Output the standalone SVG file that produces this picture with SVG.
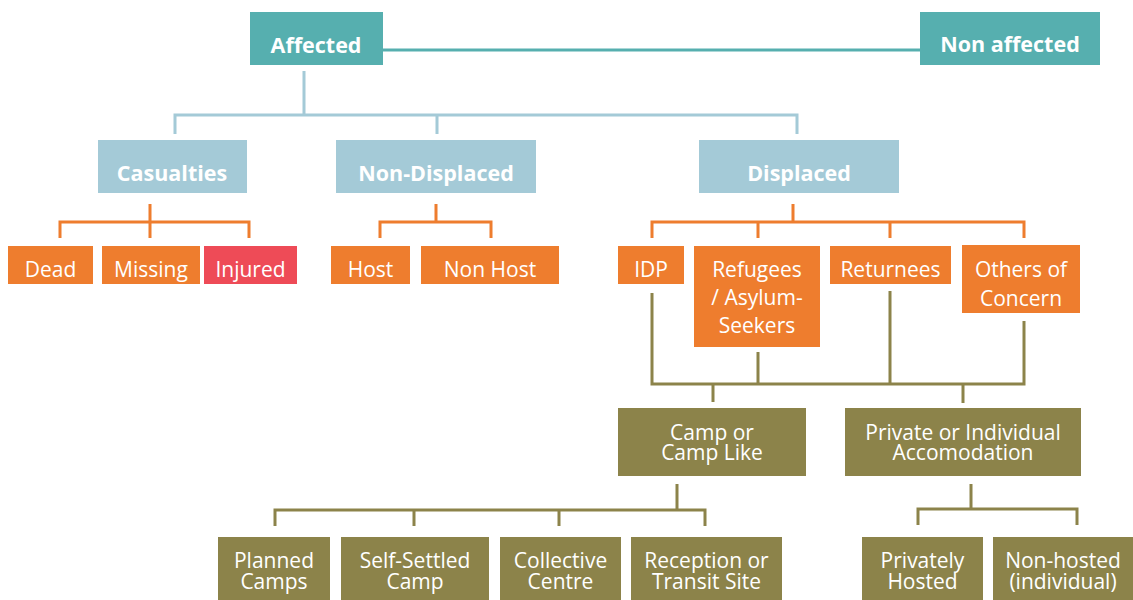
<svg xmlns="http://www.w3.org/2000/svg" width="1133" height="600" viewBox="0 0 1133 600">
<style>
.teal{fill:#56AFAF}.blue{fill:#A4CAD7}.org{fill:#EE7D2E}.red{fill:#EE4B57}.olv{fill:#8C834A}
text{font-family:"Open Sans","Noto Sans","Liberation Sans",sans-serif;fill:#fff;text-anchor:middle}
.b{font-weight:bold;font-size:21.5px}.n{font-size:21px}
.c line,.c path{fill:none;stroke-width:3}
.lt{stroke:#56AFAF}.lb{stroke:#A4CAD7}.lo{stroke:#EE7D2E}.lv{stroke:#8C834A}
</style>
<g id="connectors" class="c">
<line class="lt" x1="383" y1="50" x2="920" y2="50"/>
<path class="lb" d="M304 71V115M175 134V115H797V134M437 115V134"/>
<path class="lo" d="M150 204V222M60 238V222H249V238M150 222V238"/>
<path class="lo" d="M436 204V222M380 238V222H491V238"/>
<path class="lo" d="M793 204V222M652 238V222H1024V238M758 222V238M890 222V238"/>
<path class="lv" d="M652 293V384H1024V321M758 352V384M890 291V384M713 384V402M963 384V403"/>
<path class="lv" d="M677 484V510M275 526V510H705V526M414 510V526M559 510V526"/>
<path class="lv" d="M971 484V509M918 525V509H1077V525"/>
</g>
<g id="affected"><rect class="teal" x="250" y="12" width="133" height="53"/><text class="b" x="316" y="53">Affected</text></g>
<g id="non-affected"><rect class="teal" x="920" y="12" width="180" height="53"/><text class="b" x="1010" y="52">Non affected</text></g>
<g id="casualties"><rect class="blue" x="98" y="140" width="149" height="53"/><text class="b" x="172" y="181">Casualties</text></g>
<g id="non-displaced"><rect class="blue" x="336" y="140" width="200" height="53"/><text class="b" x="436" y="181">Non-Displaced</text></g>
<g id="displaced"><rect class="blue" x="699" y="140" width="200" height="53"/><text class="b" x="799" y="181">Displaced</text></g>
<g id="dead"><rect class="org" x="8" y="246" width="85" height="38"/><text class="n" x="50.5" y="277">Dead</text></g>
<g id="missing"><rect class="org" x="102" y="246" width="98" height="38"/><text class="n" x="151" y="277">Missing</text></g>
<g id="injured"><rect class="red" x="204" y="246" width="93" height="38"/><text class="n" x="250.5" y="277">Injured</text></g>
<g id="host"><rect class="org" x="331" y="246" width="79" height="38"/><text class="n" x="370.5" y="277">Host</text></g>
<g id="non-host"><rect class="org" x="421" y="246" width="138" height="38"/><text class="n" x="490" y="277">Non Host</text></g>
<g id="idp"><rect class="org" x="618" y="246" width="66" height="38"/><text class="n" x="651" y="277">IDP</text></g>
<g id="refugees"><rect class="org" x="694" y="246" width="126" height="101"/><text class="n" x="757" y="277">Refugees</text><text class="n" x="757" y="305">/ Asylum-</text><text class="n" x="757" y="333">Seekers</text></g>
<g id="returnees"><rect class="org" x="830" y="246" width="121" height="38"/><text class="n" x="890.5" y="277">Returnees</text></g>
<g id="others"><rect class="org" x="962" y="245" width="118" height="68"/><text class="n" x="1021" y="277">Others of</text><text class="n" x="1021" y="306">Concern</text></g>
<g id="camp"><rect class="olv" x="618" y="408" width="188" height="68"/><text class="n" x="712" y="440">Camp or</text><text class="n" x="712" y="460">Camp Like</text></g>
<g id="private"><rect class="olv" x="845" y="408" width="236" height="68"/><text class="n" x="963" y="440">Private or Individual</text><text class="n" x="963" y="460">Accomodation</text></g>
<g id="planned"><rect class="olv" x="218" y="537" width="112" height="63"/><text class="n" x="274" y="568">Planned</text><text class="n" x="274" y="589">Camps</text></g>
<g id="self-settled"><rect class="olv" x="341" y="537" width="148" height="63"/><text class="n" x="415" y="568">Self-Settled</text><text class="n" x="415" y="589">Camp</text></g>
<g id="collective"><rect class="olv" x="500" y="537" width="121" height="63"/><text class="n" x="560.5" y="568">Collective</text><text class="n" x="560.5" y="589">Centre</text></g>
<g id="reception"><rect class="olv" x="631" y="537" width="151" height="63"/><text class="n" x="706.5" y="568">Reception or</text><text class="n" x="706.5" y="589">Transit Site</text></g>
<g id="privately"><rect class="olv" x="862" y="537" width="121" height="63"/><text class="n" x="922.5" y="568">Privately</text><text class="n" x="922.5" y="589">Hosted</text></g>
<g id="non-hosted"><rect class="olv" x="993" y="537" width="140" height="63"/><text class="n" x="1063" y="568">Non-hosted</text><text class="n" x="1063" y="589">(individual)</text></g>
</svg>
